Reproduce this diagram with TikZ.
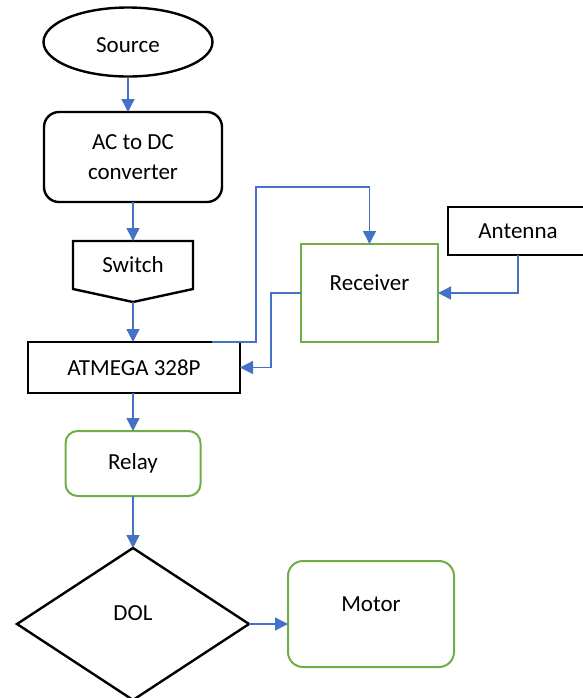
\documentclass[tikz,border=0pt]{standalone}
\usepackage{fontspec}
\setmainfont{Carlito}
\usetikzlibrary{shapes.geometric,arrows.meta}
\definecolor{linkblue}{HTML}{4472C4}
\definecolor{boxgreen}{HTML}{70AD47}
\tikzstyle{block}=[draw, line width=1.2pt, inner sep=0pt, outer sep=0pt]
\tikzstyle{gblock}=[draw=boxgreen, line width=1pt, inner sep=0pt, outer sep=0pt]
\tikzstyle{link}=[draw=linkblue, line width=0.7pt, -{Triangle[length=6.5pt,width=6.5pt]}]

\begin{document}
\begin{tikzpicture}[x=0.5pt, y=-0.5pt, font=\fontsize{11.5}{15}\selectfont]
                \useasboundingbox (0,0) rectangle (583,698);
                \clip (0,0) rectangle (583,698);
                \node[block, ellipse, minimum width=84.5pt, minimum height=34.5pt, label={[yshift=-1.5pt]center:Source}] (source) at (128,42) {};
                \node[block, rounded corners=7.5pt, minimum width=89pt, minimum height=45pt, align=center] (conv) at (133,157) {AC to DC\\converter};
                \node[inner sep=0pt, outer sep=0pt, minimum width=60pt, minimum height=24pt] (switch) at (133,265) {Switch};
                \draw[line width=1.2pt, line join=miter] (switch.north west) -- (switch.north east) -- (switch.south east)
                    -- ([yshift=-6.5pt]switch.south) coordinate (swtip) -- (switch.south west) -- cycle;
                \node[block, minimum width=106pt, minimum height=25.5pt] (mcu) at (134,367.5) {ATMEGA 328P};
                \node[gblock, minimum width=68.5pt, minimum height=49pt, label={[yshift=5pt]center:Receiver}] (rx) at (369.5,293) {};
                \node[block, minimum width=70pt, minimum height=24pt] (ant) at (518,231) {Antenna};
                \node[gblock, rounded corners=6pt, minimum width=67.5pt, minimum height=32.5pt] (relay) at (133,463.5) {Relay};
                \node[block, diamond, minimum width=116pt, minimum height=76pt, label={[yshift=5.5pt]center:DOL}] (dol) at (133,624) {};
                \node[gblock, rounded corners=7.5pt, minimum width=83pt, minimum height=53pt, label={[yshift=5pt]center:Motor}] (motor) at (371,614) {};
                \draw[link] (source.south) -- (source.south |- conv.north);
                \draw[link] (conv.south) -- (conv.south |- switch.north);
                \draw[link] (swtip) -- (swtip |- mcu.north);
                \draw[link] ([xshift=-14pt]mcu.north east) -- ++(44,0) |- ([yshift=28.5pt]rx.north) -- (rx.north);
                \draw[link] (ant.south) |- (rx.east);
                \draw[link] (rx.west) -- ++(-30,0) |- (mcu.east);
                \draw[link] (mcu.south -| relay.north) -- (relay.north);
                \draw[link] (relay.south) -- (dol.north);
                \draw[link] (dol.east) -- (dol.east -| motor.west);
            \end{tikzpicture}
\end{document}
